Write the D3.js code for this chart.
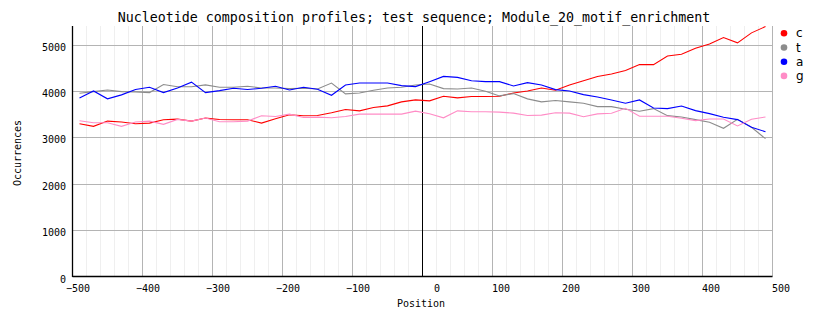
<!DOCTYPE html>
<html>
<head>
<meta charset="utf-8">
<script src="https://cdn.jsdelivr.net/npm/d3@7"></script>
<style>
  body { margin: 0; background: #fff; }
  svg { display: block; }
  text { fill: #000; }
</style>
</head>
<body>
<svg id="chart" width="828" height="328"></svg>
<script>
// ---- data ----
const positions = d3.range(-490, 500, 20); // 50 bins
const seriesNames = ["c", "t", "a", "g"];
const seriesColors = ["#ff0000", "#8c8c8c", "#0000ff", "#ff8cc6"];
const cValues = [3293,3236,3350,3330,3293,3307,3380,3393,3350,3415,3386,3380,3380,3307,3400,3486,3464,3471,3529,3600,3571,3643,3679,3764,3807,3786,3886,3850,3879,3879,3886,3957,4000,4064,4014,4129,4221,4312,4367,4439,4568,4568,4755,4791,4920,5014,5151,5036,5252,5388];
const tValues = [3950,3985,4020,3985,3980,3965,4140,4090,4090,4130,4080,4080,4100,4064,4064,4050,4057,4043,4171,3936,3957,4014,4064,4079,4129,4150,4050,4043,4064,3993,3893,3943,3829,3764,3793,3764,3736,3663,3662,3604,3561,3619,3468,3439,3381,3324,3194,3389,3216,2971];
const aValues = [3850,4000,3830,3915,4030,4080,3965,4065,4190,3965,4007,4057,4030,4057,4100,4021,4079,4036,3907,4129,4171,4171,4171,4114,4093,4200,4314,4293,4221,4200,4200,4107,4179,4129,4029,4000,3921,3870,3806,3734,3806,3633,3619,3676,3576,3511,3432,3382,3216,3122];
const gValues = [3357,3314,3314,3236,3330,3350,3280,3386,3350,3415,3336,3336,3350,3464,3450,3500,3429,3436,3421,3450,3500,3500,3500,3500,3564,3507,3421,3571,3550,3550,3543,3521,3471,3479,3529,3521,3443,3505,3518,3626,3453,3453,3453,3410,3360,3396,3396,3245,3389,3439];
const xTicks = [-500,-400,-300,-200,-100,0,100,200,300,400,500];
const yTicks = [0,1000,2000,3000,4000,5000];
const titleText = "Nucleotide composition profiles; test sequence; Module_20_motif_enrichment";
const xLabel = "Position";
const yLabel = "Occurrences";

const allSeries = [cValues, tValues, aValues, gValues];

// ---- layout ----
const svg = d3.select("#chart");
const x = d3.scaleLinear().domain([-500, 500]).range([72.5, 772.5]);
const y = d3.scaleLinear().domain([0, 5400]).range([276.5, 26]);
const plotTop = y.range()[1], plotBottom = y.range()[0];

// minor vertical gridlines
svg.append("g").selectAll("line")
  .data(d3.range(-480, 500, 20).filter(v => v % 100 !== 0))
  .join("line")
  .attr("x1", d => x(d)).attr("x2", d => x(d))
  .attr("y1", plotTop).attr("y2", plotBottom)
  .attr("stroke", "#efefef").attr("stroke-width", 1);

// major vertical gridlines
svg.append("g").selectAll("line")
  .data(xTicks.filter(v => v !== -500 && v !== 0))
  .join("line")
  .attr("x1", d => x(d)).attr("x2", d => x(d))
  .attr("y1", plotTop).attr("y2", plotBottom)
  .attr("stroke", "#b4b4b4").attr("stroke-width", 1);

// horizontal gridlines
svg.append("g").selectAll("line")
  .data(yTicks.filter(v => v > 0))
  .join("line")
  .attr("x1", x(-500)).attr("x2", x(500))
  .attr("y1", d => Math.round(y(d)) + 0.5).attr("y2", d => Math.round(y(d)) + 0.5)
  .attr("stroke", "#b4b4b4").attr("stroke-width", 1);

// zero line
svg.append("line")
  .attr("x1", x(0)).attr("x2", x(0)).attr("y1", plotTop).attr("y2", plotBottom)
  .attr("stroke", "#000").attr("stroke-width", 1);

// lines
const line = d3.line().x((d, i) => x(positions[i])).y(d => y(d));
svg.append("g").selectAll("path")
  .data(allSeries)
  .join("path")
  .attr("d", d => line(d))
  .attr("fill", "none")
  .attr("stroke", (d, i) => seriesColors[i])
  .attr("stroke-width", 1.1);

// axes lines
svg.append("line").attr("x1", x(-500)).attr("x2", x(-500)).attr("y1", plotTop).attr("y2", plotBottom + 0.5)
  .attr("stroke", "#000").attr("stroke-width", 1.3);
svg.append("line").attr("x1", x(-500)).attr("x2", x(500)).attr("y1", plotBottom).attr("y2", plotBottom)
  .attr("stroke", "#000").attr("stroke-width", 1.3);

// x tick labels via d3 axis
const xAxis = svg.append("g")
  .attr("transform", `translate(0,${plotBottom})`)
  .call(d3.axisBottom(x).tickValues(xTicks).tickSize(0).tickFormat(d3.format("d")));
xAxis.select(".domain").remove();
xAxis.selectAll("text")
  .attr("font-family", "DejaVu Sans Mono, monospace")
  .attr("font-size", "10px")
  .attr("text-anchor", "end")
  .attr("x", 17)
  .attr("y", 0)
  .attr("dy", "15.5px")
  .style("fill", "#000");

// y tick labels via d3 axis
const yAxis = svg.append("g")
  .attr("transform", `translate(${x(-500)},0)`)
  .call(d3.axisLeft(y).tickValues(yTicks).tickSize(0).tickFormat(d3.format("d")));
yAxis.select(".domain").remove();
yAxis.selectAll("text")
  .attr("font-family", "DejaVu Sans Mono, monospace")
  .attr("font-size", "10px")
  .attr("text-anchor", "end")
  .attr("x", -6.5)
  .attr("dy", "5.5px")
  .style("fill", "#000");

// title
svg.append("text")
  .attr("x", 414).attr("y", 22)
  .attr("text-anchor", "middle")
  .attr("font-family", "DejaVu Sans Mono, monospace")
  .attr("font-size", "13.3px")
  .text(titleText);

// axis titles
svg.append("text")
  .attr("x", 421).attr("y", 307)
  .attr("text-anchor", "middle")
  .attr("font-family", "DejaVu Sans Mono, monospace")
  .attr("font-size", "10px")
  .text(xLabel);
svg.append("text")
  .attr("transform", "translate(21,153) rotate(-90)")
  .attr("text-anchor", "middle")
  .attr("font-family", "DejaVu Sans Mono, monospace")
  .attr("font-size", "10px")
  .text(yLabel);

// legend
const legend = svg.append("g").selectAll("g")
  .data(seriesNames)
  .join("g")
  .attr("transform", (d, i) => `translate(784,${33.3 + i * 14.2})`);
legend.append("circle").attr("r", 3.3).attr("fill", (d, i) => seriesColors[i]);
legend.append("text")
  .attr("x", 12).attr("dy", "4px")
  .attr("font-family", "DejaVu Sans, sans-serif")
  .attr("font-size", "12px")
  .text(d => d);
</script>
</body>
</html>
